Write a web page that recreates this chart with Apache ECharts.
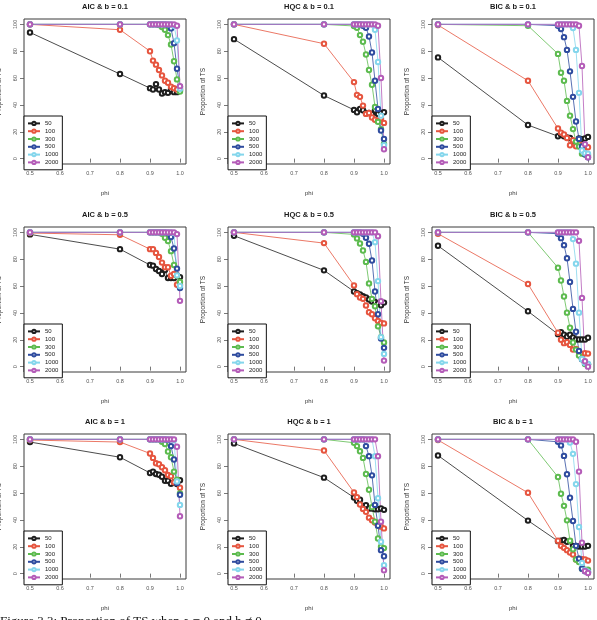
<!DOCTYPE html>
<html>
<head>
<meta charset="utf-8">
<script src="https://cdn.jsdelivr.net/npm/echarts@6/dist/echarts.min.js"></script>
<style>
html,body{margin:0;padding:0;background:#fff;}
#chart{width:597px;height:620px;}
</style>
</head>
<body>
<div id="chart"></div>
<script>
var phi = [0.5, 0.8, 0.9, 0.91, 0.92, 0.93, 0.94, 0.95, 0.96, 0.97, 0.98, 0.99, 1.0];
var sizes = ['50', '100', '300', '500', '1000', '2000'];
var colors = ['#1e1e1e', '#e6553f', '#5dbb4f', '#2f4c9f', '#84d6ec', '#b45cb8'];
var xTicks = [0.5, 0.6, 0.7, 0.8, 0.9, 1.0];
var yTicks = [0, 20, 40, 60, 80, 100];
var titles = ['AIC & b = 0.1', 'HQC & b = 0.1', 'BIC & b = 0.1',
              'AIC & b = 0.5', 'HQC & b = 0.5', 'BIC & b = 0.5',
              'AIC & b = 1', 'HQC & b = 1', 'BIC & b = 1'];

// one row per sample size: 50, 100, 300, 500, 1000, 2000
var aicB01 = [
	[94, 63, 52.5, 51.5, 55.5, 51.5, 48.5, 49.5, 49, 51.5, 49.5, 49.5, 51],
	[100, 96, 80, 73, 70, 66, 62, 58, 56.5, 53.5, 52.5, 51.5, 52],
	[100, 100, 100, 100, 100, 99.5, 98, 96, 92, 85, 72.5, 59, 50],
	[100, 100, 100, 100, 100, 100, 100, 100, 99.5, 97, 86, 67, 53.5],
	[100, 100, 100, 100, 100, 100, 100, 100, 100, 100, 99, 88, 52],
	[100, 100, 100, 100, 100, 100, 100, 100, 100, 100, 100, 99, 54]
];
var hqcB01 = [
	[89, 47, 36.3, 34.6, 37, 36, 34, 34, 33, 36, 33.3, 34, 34.6],
	[100, 85.6, 57, 47.5, 46, 39.5, 33.3, 34, 30.6, 29, 28, 30, 26.6],
	[100, 100, 98.8, 97.5, 92, 87, 77.6, 66, 55, 38.5, 27.4, 22, 11],
	[100, 100, 100, 100, 100, 99, 97.5, 91, 79, 58, 37, 21, 14.7],
	[100, 100, 100, 100, 100, 100, 100, 100, 100, 96, 72, 32, 10],
	[100, 100, 100, 100, 100, 100, 100, 100, 100, 100, 99, 60, 7]
];
var bicB01 = [
	[75.4, 25, 16.7, 18, 16.7, 15.7, 15.4, 13, 13, 15, 14.4, 15, 16.2],
	[99.5, 58, 22.4, 19.4, 18, 15.4, 10, 13.7, 9.2, 11, 7.5, 8.5, 8.5],
	[100, 99, 78, 64, 58, 43, 32, 22, 12.7, 9, 3.7, 3, 2.5],
	[100, 100, 99, 96.5, 90.5, 81, 65, 46, 27.6, 14.7, 9, 3.2, 1],
	[100, 100, 100, 100, 100, 100, 100, 97.3, 81, 49, 6, 4, 3.7],
	[100, 100, 100, 100, 100, 100, 100, 100, 100, 99, 69, 10.7, 1]
];
var aicB05 = [
	[98.5, 87.5, 75.7, 75.2, 72.7, 71.2, 69, 72, 66, 66, 66, 68, 66.7],
	[99.5, 98.2, 87.5, 87.5, 84.7, 81.7, 77.5, 74, 74, 67.7, 69, 61, 61],
	[100, 100, 100, 100, 100, 100, 99, 96, 93.5, 86, 75.7, 67.7, 63],
	[100, 100, 100, 100, 100, 100, 100, 100, 99.5, 96.5, 88, 73, 58.5],
	[100, 100, 100, 100, 100, 100, 100, 100, 100, 100, 99.5, 68, 60],
	[100, 100, 100, 100, 100, 100, 100, 100, 100, 100, 100, 98.7, 49]
];
var hqcB05 = [
	[97.5, 71.7, 56, 54.7, 53.7, 52.5, 51.5, 50, 48.5, 48.2, 47, 45.7, 47.7],
	[100, 92, 60.5, 54, 51.5, 50.5, 45.5, 40.5, 39, 36, 34, 32.5, 32.2],
	[100, 100, 98.5, 95.5, 91.7, 86.5, 78, 62, 50.5, 45, 30, 22, 18],
	[100, 100, 100, 100, 100, 99, 96, 91.5, 79, 56, 39, 21, 14],
	[100, 100, 100, 100, 100, 100, 100, 100, 100, 92.7, 63.7, 22, 9.5],
	[100, 100, 100, 100, 100, 100, 100, 100, 100, 100, 97.2, 48.7, 4.5]
];
var bicB05 = [
	[90, 41.2, 24.2, 25.7, 23.7, 22.2, 23.7, 21.7, 20.2, 20.2, 20.2, 20.2, 21.5],
	[99, 61.5, 25.2, 20, 17.5, 18.2, 16.2, 12.7, 13.2, 10.7, 9.5, 10, 9.7],
	[100, 100, 73.7, 64.2, 52.2, 40.2, 29, 18, 12.7, 8.2, 5.7, 2, 1.7],
	[100, 100, 99, 95.7, 90.5, 80.7, 63, 43, 26, 11.7, 5.5, 2.7, 1.7],
	[100, 100, 100, 100, 100, 100, 100, 95, 76.7, 40.2, 5.7, 2.7, 2],
	[100, 100, 100, 100, 100, 100, 100, 100, 100, 93.7, 51.2, 4, 0]
];
var aicB1 = [
	[98, 86.7, 75, 76, 74.2, 73.7, 72.2, 69.2, 69.2, 67, 68, 66.7, 69.5],
	[99.5, 98, 89.5, 86.2, 82.2, 81.5, 79.2, 77, 73.5, 72.5, 68, 68, 64],
	[100, 100, 100, 100, 100, 100, 98.2, 96.5, 91, 86.7, 76, 70, 59.7],
	[100, 100, 100, 100, 100, 100, 100, 100, 99.5, 95, 85, 67.5, 58.7],
	[100, 100, 100, 100, 100, 100, 100, 100, 100, 100, 99.5, 68.7, 51.2],
	[100, 100, 100, 100, 100, 100, 100, 100, 100, 100, 100, 94.5, 42.7]
];
var hqcB1 = [
	[97, 71.5, 56.7, 54.2, 55, 50.5, 51, 48.5, 48.5, 48, 48, 48.5, 47.5],
	[100, 91.7, 60.5, 57, 51.5, 48.2, 46, 41.7, 39.7, 38, 36, 35, 33.7],
	[100, 100, 97.5, 95, 91.2, 86.2, 74.2, 62.5, 49.5, 38.7, 26.2, 20, 19],
	[100, 100, 100, 100, 100, 100, 95, 87.5, 73.2, 51.2, 35.7, 17.5, 13],
	[100, 100, 100, 100, 100, 100, 100, 100, 100, 87.5, 56.2, 23.7, 6.2],
	[100, 100, 100, 100, 100, 100, 100, 100, 100, 100, 87.5, 38.7, 2.5]
];
var bicB1 = [
	[88, 39.5, 24.2, 24.5, 25, 23.7, 24.2, 20.7, 20.7, 20.2, 20.2, 20.2, 20.7],
	[99.5, 60.2, 24.5, 20.7, 19.2, 17.5, 15.7, 14.2, 10.5, 11.2, 10.7, 10.5, 9.7],
	[100, 100, 72, 59.5, 50.5, 39.7, 24.5, 18.2, 10.5, 8.7, 3.7, 3, 3],
	[100, 100, 98.2, 95.5, 87.7, 74, 56.5, 39.2, 20.7, 11.2, 3.7, 1.7, 1.2],
	[100, 100, 100, 100, 100, 100, 97.7, 89.2, 66.7, 34.7, 8, 2.5, 1.2],
	[100, 100, 100, 100, 100, 100, 100, 100, 98.2, 76, 23, 2, 0.5]
];
var panels = [aicB01, hqcB01, bicB01, aicB05, hqcB05, bicB05, aicB1, hqcB1, bicB1];

!function(){
	var myChart = echarts.init(document.getElementById('chart'), null, {renderer: 'canvas'});
	var font = '"Liberation Sans", Arial, sans-serif';
	var colLeft = [24, 228, 432];
	var rowTop = [19, 227, 434];
	var boxW = 162, boxH = 145;
	var legendH = 48;

	var grid = [], xAxis = [], yAxis = [], title = [], legend = [], series = [];

	for (var p = 0; p < 9; p++) {
		var left = colLeft[p % 3];
		var top = rowTop[Math.floor(p / 3)];

		grid.push({
			left: left, top: top, width: boxW, height: boxH,
			show: true, borderColor: '#3a3a3a', borderWidth: 1,
			backgroundColor: 'transparent',
			outerBoundsMode: 'none'
		});
		title.push({
			text: titles[p],
			left: left + boxW / 2, top: top - 16,
			textAlign: 'center', padding: 0,
			textStyle: {fontSize: 7.5, fontWeight: 'bold', color: '#1a1a1a', fontFamily: font}
		});
		xAxis.push({
			gridIndex: p, type: 'value', min: 0.48, max: 1.02,
			name: 'phi', nameLocation: 'middle', nameGap: 26,
			nameTextStyle: {fontSize: 6, color: '#333', fontFamily: font},
			axisLine: {show: false},
			axisTick: {show: true, length: 4, customValues: xTicks, lineStyle: {color: '#555', width: 0.8}},
			axisLabel: {
				customValues: xTicks, margin: 6, fontSize: 5.5, color: '#555', fontFamily: font,
				formatter: function(v){ return v.toFixed(1); }
			},
			splitLine: {show: false}
		});
		yAxis.push({
			gridIndex: p, type: 'value', min: -4, max: 104,
			name: 'Proportion of TS', nameLocation: 'middle', nameGap: 21, nameRotate: 90,
			nameTextStyle: {fontSize: 6.5, color: '#333', fontFamily: font},
			axisLine: {show: false},
			axisTick: {show: true, length: 4, customValues: yTicks, lineStyle: {color: '#555', width: 0.8}},
			axisLabel: {
				customValues: yTicks, margin: 6, rotate: 90, fontSize: 5.5, color: '#555', fontFamily: font
			},
			splitLine: {show: false}
		});
		legend.push({
			data: sizes, orient: 'vertical',
			left: left, top: top + boxH - legendH,
			padding: [4, 4, 4, 3], itemGap: 1, itemWidth: 12, itemHeight: 4,
			borderColor: '#111', borderWidth: 1, backgroundColor: '#fff',
			itemStyle: {borderWidth: 0.8},
			textStyle: {fontSize: 6, lineHeight: 6.8, color: '#222', fontFamily: font},
			selectedMode: false
		});

		for (var s = 0; s < sizes.length; s++) {
			var vals = panels[p][s];
			series.push({
				type: 'line', name: sizes[s],
				xAxisIndex: p, yAxisIndex: p,
				data: phi.map(function(x, k){ return [x, vals[k]]; }),
				color: colors[s],
				symbol: 'emptyCircle', symbolSize: 4.4,
				lineStyle: {width: 0.8},
				itemStyle: {borderWidth: 0.7},
				emphasis: {disabled: true},
				animation: false
			});
		}
	}

	var option = {
		backgroundColor: '#fff',
		animation: false,
		title: title,
		legend: legend,
		grid: grid,
		xAxis: xAxis,
		yAxis: yAxis,
		series: series,
		graphic: [{
			type: 'text', left: 0, top: 615,
			style: {text: 'Figure 3.3: Proportion of TS when \u03c1 = 0 and b \u2260 0', font: '13px "Liberation Serif", serif', fill: '#111'}
		}]
	};
	myChart.setOption(option);
}();
</script>
</body>
</html>
